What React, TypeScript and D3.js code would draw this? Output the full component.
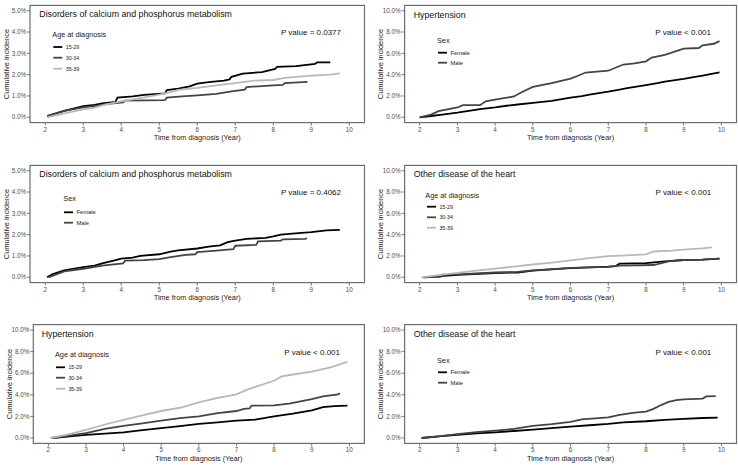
import React from 'react';
import * as d3 from 'd3';

type Pt = [number, number];

const timeTicks = [2, 3, 4, 5, 6, 7, 8, 9, 10];
const yTicks5 = [0, 1, 2, 3, 4, 5];
const yTicks10 = [0, 2, 4, 6, 8, 10];
const ageGroups = ['15-29', '30-34', '35-39'];
const sexGroups = ['Female', 'Male'];
const panelTitles = [
  'Disorders of calcium and phosphorus metabolism',
  'Hypertension',
  'Disorders of calcium and phosphorus metabolism',
  'Other disease of the heart',
  'Hypertension',
  'Other disease of the heart',
];
const pValues = ['P value = 0.0377', 'P value < 0.001', 'P value = 0.4062', 'P value < 0.001', 'P value < 0.001', 'P value < 0.001'];

// Panel 1: calcium/phosphorus by age
const caAge1529: Pt[] = [[2.05,0.05],[2.5,0.3],[3.0,0.52],[3.3,0.58],[3.5,0.65],[3.85,0.72],[3.9,0.92],[4.3,0.98],[4.6,1.05],[5.15,1.12],[5.2,1.28],[5.5,1.34],[5.8,1.45],[6.0,1.58],[6.3,1.65],[6.7,1.72],[6.85,1.78],[6.9,1.9],[7.2,2.05],[7.7,2.12],[8.05,2.27],[8.1,2.37],[8.6,2.4],[9.1,2.5],[9.15,2.58],[9.5,2.58]];
const caAge3034: Pt[] = [[2.05,0.05],[2.5,0.3],[3.0,0.46],[3.3,0.52],[3.6,0.62],[4.05,0.7],[4.1,0.78],[5.15,0.8],[5.2,0.92],[5.6,0.98],[6.0,1.03],[6.5,1.1],[6.9,1.22],[7.25,1.3],[7.3,1.42],[8.0,1.5],[8.25,1.52],[8.3,1.6],[8.9,1.66]];
const caAge3539: Pt[] = [[2.05,0.0],[2.5,0.18],[3.0,0.37],[3.3,0.45],[3.6,0.6],[4.0,0.75],[4.5,0.9],[5.0,1.06],[5.3,1.18],[5.5,1.29],[6.0,1.38],[6.5,1.5],[7.0,1.6],[7.5,1.72],[8.0,1.75],[8.3,1.85],[9.0,1.95],[9.5,2.0],[9.75,2.06]];

// Panel 2: hypertension by sex
const htnFemale: Pt[] = [[2.0,0],[2.3,0.12],[2.6,0.25],[3.0,0.43],[3.3,0.6],[3.6,0.77],[4.0,0.92],[4.3,1.08],[4.6,1.2],[5.0,1.35],[5.5,1.54],[6.0,1.85],[6.3,1.98],[6.5,2.12],[7.0,2.4],[7.3,2.6],[7.5,2.74],[8.0,3.02],[8.3,3.2],[8.5,3.35],[9.0,3.6],[9.3,3.8],[9.5,3.9],[9.95,4.22]];
const htnMale: Pt[] = [[2.0,0],[2.3,0.25],[2.5,0.58],[3.0,0.92],[3.15,1.14],[3.6,1.14],[3.75,1.5],[4.0,1.66],[4.5,1.95],[4.7,2.35],[5.0,2.85],[5.5,3.2],[6.0,3.62],[6.2,3.9],[6.4,4.2],[7.0,4.37],[7.4,4.95],[7.7,5.05],[8.0,5.25],[8.15,5.6],[8.5,5.85],[9.0,6.45],[9.4,6.5],[9.5,6.75],[9.8,6.9],[9.95,7.15]];

// Panel 3: calcium/phosphorus by sex
const caFemale: Pt[] = [[2.05,0],[2.2,0.15],[2.5,0.32],[3.0,0.48],[3.3,0.55],[3.5,0.65],[3.8,0.78],[4.0,0.88],[4.3,0.92],[4.5,1.0],[5.0,1.08],[5.3,1.2],[5.5,1.26],[6.0,1.35],[6.3,1.44],[6.6,1.5],[6.8,1.65],[7.0,1.72],[7.3,1.8],[7.8,1.85],[8.0,1.92],[8.2,2.0],[8.5,2.05],[9.0,2.12],[9.4,2.2],[9.75,2.22]];
const caMale: Pt[] = [[2.1,0],[2.5,0.28],[3.0,0.4],[3.5,0.55],[4.05,0.65],[4.1,0.78],[4.6,0.8],[5.0,0.85],[5.3,0.95],[5.7,1.05],[5.95,1.08],[6.0,1.18],[6.5,1.25],[6.95,1.32],[7.0,1.48],[7.55,1.52],[7.6,1.68],[8.2,1.72],[8.25,1.78],[8.85,1.8],[8.88,1.85]];

// Panel 4: other heart disease by age
const heartAge1529: Pt[] = [[2.1,0],[3.0,0.22],[4.0,0.4],[4.6,0.45],[5.0,0.62],[6.0,0.85],[7.0,1.0],[7.2,1.05],[7.3,1.28],[8.0,1.32],[8.5,1.5],[9.0,1.62],[9.5,1.65],[9.95,1.75]];
const heartAge3034: Pt[] = [[2.1,0],[2.55,0.05],[2.6,0.25],[3.0,0.28],[4.0,0.45],[4.6,0.5],[5.0,0.65],[6.0,0.88],[7.0,0.98],[7.3,1.1],[8.2,1.15],[8.6,1.5],[9.0,1.62],[9.5,1.65],[9.95,1.75]];
const heartAge3539: Pt[] = [[2.05,0],[2.5,0.2],[3.0,0.42],[3.5,0.62],[4.0,0.82],[4.5,1.0],[5.0,1.2],[5.5,1.38],[6.0,1.58],[6.5,1.8],[7.0,1.98],[7.5,2.05],[8.0,2.15],[8.2,2.42],[8.7,2.5],[9.0,2.6],[9.5,2.72],[9.75,2.8]];

// Panel 5: hypertension by age
const htnAge1529: Pt[] = [[2.1,0],[2.5,0.12],[3.0,0.28],[3.5,0.4],[4.0,0.53],[4.5,0.72],[5.0,0.92],[5.5,1.1],[6.0,1.3],[6.5,1.45],[7.0,1.6],[7.5,1.7],[8.0,2.0],[8.5,2.25],[9.0,2.55],[9.3,2.85],[9.6,2.95],[9.95,3.0]];
const htnAge3034: Pt[] = [[2.1,0],[2.5,0.2],[3.0,0.45],[3.5,0.85],[4.0,1.12],[4.5,1.35],[5.0,1.6],[5.5,1.85],[6.0,2.0],[6.5,2.3],[7.0,2.5],[7.2,2.7],[7.35,2.75],[7.4,3.0],[8.0,3.02],[8.4,3.18],[9.0,3.6],[9.3,3.85],[9.7,4.04],[9.75,4.15]];
const htnAge3539: Pt[] = [[2.05,0],[2.5,0.32],[3.0,0.75],[3.5,1.25],[4.0,1.68],[4.5,2.1],[5.0,2.5],[5.5,2.8],[6.0,3.3],[6.5,3.72],[7.0,4.05],[7.3,4.5],[7.6,4.85],[8.0,5.3],[8.2,5.7],[8.5,5.88],[9.0,6.15],[9.5,6.55],[9.95,7.05]];

// Panel 6: other heart disease by sex
const heartFemale: Pt[] = [[2.05,0],[2.5,0.15],[3.0,0.3],[3.5,0.42],[4.0,0.53],[4.5,0.65],[5.0,0.78],[5.5,0.92],[6.0,1.05],[6.5,1.18],[7.0,1.3],[7.4,1.45],[8.0,1.55],[8.5,1.68],[9.0,1.78],[9.5,1.85],[9.9,1.88]];
const heartMale: Pt[] = [[2.05,0],[2.5,0.15],[3.0,0.36],[3.5,0.55],[4.0,0.68],[4.5,0.84],[5.0,1.12],[5.5,1.28],[6.0,1.5],[6.3,1.72],[7.0,1.9],[7.3,2.15],[7.7,2.35],[8.0,2.45],[8.2,2.7],[8.4,3.05],[8.6,3.35],[8.8,3.5],[9.0,3.58],[9.5,3.65],[9.6,3.85],[9.85,3.88]];

const ageColors = ['#000000', '#444444', '#b8b8b8'];
const sexColors = ['#000000', '#444444'];

const FONT = '"Liberation Sans", Arial, sans-serif';

interface Layout {
  L: number; T: number; R: number; B: number;
  ymax: number; yTicks: number[];
  titleX: number; titleY: number;
  pX: number; pY: number;
  legX: number; legY: number;
  keyX: number; entryYs: number[];
}

const layouts: Layout[] = [
  { L: 30, T: 5.4, R: 364.5, B: 122.6, ymax: 5, yTicks: yTicks5, titleX: 39.3, titleY: 14.3, pX: 341, pY: 31.7, legX: 52.3, legY: 34, keyX: 53.3, entryYs: [47, 57.7, 68.7] },
  { L: 404.6, T: 5.4, R: 736.5, B: 122.6, ymax: 10, yTicks: yTicks10, titleX: 413.7, titleY: 14.7, pX: 711, pY: 32.3, legX: 437, legY: 40.7, keyX: 438, entryYs: [52.7, 62.7] },
  { L: 30, T: 165.4, R: 364.5, B: 282.6, ymax: 5, yTicks: yTicks5, titleX: 39.3, titleY: 174, pX: 341, pY: 192.3, legX: 63.3, legY: 198.3, keyX: 64, entryYs: [212.3, 222.7] },
  { L: 404.6, T: 165.4, R: 736.5, B: 282.6, ymax: 10, yTicks: yTicks10, titleX: 413.7, titleY: 174, pX: 711.3, pY: 191.7, legX: 425.3, legY: 195, keyX: 427, entryYs: [206.7, 217.3, 227.7] },
  { L: 33.3, T: 324.6, R: 364.4, B: 443.4, ymax: 10, yTicks: yTicks10, titleX: 41.7, titleY: 334, pX: 340, pY: 352, legX: 55, legY: 354, keyX: 56, entryYs: [367.3, 377.7, 388.7] },
  { L: 404.6, T: 324.6, R: 736.5, B: 443.4, ymax: 10, yTicks: yTicks10, titleX: 413.7, titleY: 334, pX: 711.3, pY: 352, legX: 437, legY: 360, keyX: 438, entryYs: [372.3, 382.7] },
];

const panelSeries: Pt[][][] = [
  [caAge1529, caAge3034, caAge3539],
  [htnFemale, htnMale],
  [caFemale, caMale],
  [heartAge1529, heartAge3034, heartAge3539],
  [htnAge1529, htnAge3034, htnAge3539],
  [heartFemale, heartMale],
];

function Panel({ idx }: { idx: number }) {
  const lay = layouts[idx];
  const series = panelSeries[idx];
  const isAge = series.length === 3;
  const groups = isAge ? ageGroups : sexGroups;
  const colors = isAge ? ageColors : sexColors;
  const x = d3.scaleLinear().domain([1.6, 10.4]).range([lay.L, lay.R]);
  const y = d3.scaleLinear().domain([-0.05 * lay.ymax, 1.05 * lay.ymax]).range([lay.B, lay.T]);
  const line = d3.line<Pt>().x(d => x(d[0])).y(d => y(d[1])).curve(d3.curveLinear);
  const cx = (lay.L + lay.R) / 2;
  const cy = (lay.T + lay.B) / 2;
  return (
    <g>
      {series.map((s, i) => (
        <path key={i} d={line(s) || ''} fill="none" stroke={colors[i]} strokeWidth={1.8} strokeLinejoin="miter" />
      ))}
      <rect x={lay.L} y={lay.T} width={lay.R - lay.L} height={lay.B - lay.T} fill="none" stroke="#6e6e6e" strokeWidth={1.2} />
      {lay.yTicks.map(t => (
        <g key={'y' + t}>
          <line x1={lay.L - 3} x2={lay.L} y1={y(t)} y2={y(t)} stroke="#555" strokeWidth={0.8} />
          <text x={lay.L - 4} y={y(t)} dy="0.35em" textAnchor="end" fontSize={6.3} fill="#4d4d4d" fontFamily={FONT}>{t.toFixed(1) + '%'}</text>
        </g>
      ))}
      {timeTicks.map(t => (
        <g key={'x' + t}>
          <line x1={x(t)} x2={x(t)} y1={lay.B} y2={lay.B + 3} stroke="#555" strokeWidth={0.8} />
          <text x={x(t)} y={lay.B + 6.8} dy="0.35em" textAnchor="middle" fontSize={6.3} fill="#4d4d4d" fontFamily={FONT}>{t}</text>
        </g>
      ))}
      <text x={cx} y={lay.B + 14.6} dy="0.35em" textAnchor="middle" fontSize={7.3} fill="#222" fontFamily={FONT}>Time from diagnosis (Year)</text>
      <text transform={`translate(${lay.L - 24},${cy}) rotate(-90)`} dy="0.35em" textAnchor="middle" fontSize={7.4} fill="#222" fontFamily={FONT}>Cumulative incidence</text>
      <text x={lay.titleX} y={lay.titleY} dy="0.35em" fontSize={8.8} fill="#111" fontFamily={FONT}>{panelTitles[idx]}</text>
      <text x={lay.pX} y={lay.pY} dy="0.35em" textAnchor="end" fontSize={8} fill="#111" fontFamily={FONT}>{pValues[idx]}</text>
      <text x={lay.legX} y={lay.legY} dy="0.35em" fontSize={7.3} fill="#222" fontFamily={FONT}>{isAge ? 'Age at diagnosis' : 'Sex'}</text>
      {groups.map((g, i) => (
        <g key={g}>
          <line x1={lay.keyX} x2={lay.keyX + 9} y1={lay.entryYs[i]} y2={lay.entryYs[i]} stroke={colors[i]} strokeWidth={1.8} />
          <text x={lay.keyX + 12.4} y={lay.entryYs[i]} dy="0.35em" fontSize={isAge ? 5.3 : 5.8} fill="#222" fontFamily={FONT}>{g}</text>
        </g>
      ))}
    </g>
  );
}

export default function App() {
  return (
    <svg width={738} height={466} style={{ position: 'absolute', left: 0, top: 0, background: '#fff' }}>
      <rect width={738} height={466} fill="#fff" />
      {layouts.map((_, i) => <Panel key={i} idx={i} />)}
    </svg>
  );
}
